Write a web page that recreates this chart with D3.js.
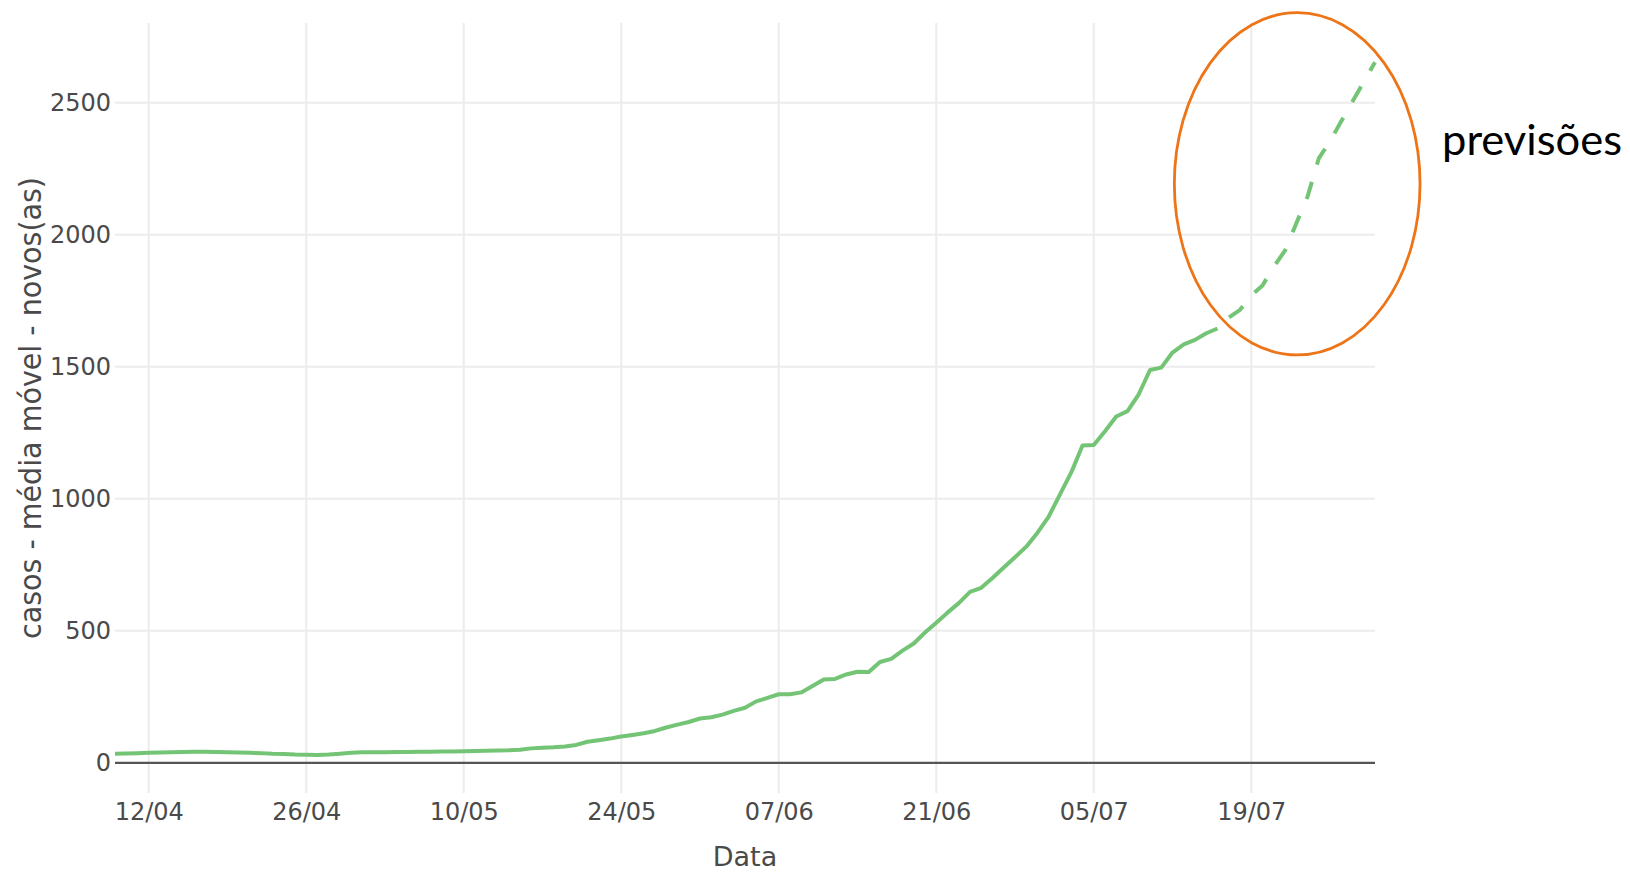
<!DOCTYPE html>
<html>
<head>
<meta charset="utf-8">
<script src="https://cdn.jsdelivr.net/npm/d3@7"></script>
<style>
  html, body { margin: 0; padding: 0; background: #ffffff; }
  svg { display: block; }
</style>
</head>
<body>
<svg id="chart" width="1630" height="874"></svg>
<script>
// ---------------- data ----------------
const observedDates = [
  "2020-04-09","2020-04-10","2020-04-11","2020-04-12","2020-04-13","2020-04-14","2020-04-15","2020-04-16",
  "2020-04-17","2020-04-18","2020-04-19","2020-04-20","2020-04-21","2020-04-22","2020-04-23","2020-04-24",
  "2020-04-25","2020-04-26","2020-04-27","2020-04-28","2020-04-29","2020-04-30",
  "2020-05-01","2020-05-02","2020-05-03","2020-05-04","2020-05-05","2020-05-06","2020-05-07","2020-05-08",
  "2020-05-09","2020-05-10","2020-05-11","2020-05-12","2020-05-13","2020-05-14","2020-05-15","2020-05-16",
  "2020-05-17","2020-05-18","2020-05-19","2020-05-20","2020-05-21","2020-05-22","2020-05-23","2020-05-24",
  "2020-05-25","2020-05-26","2020-05-27","2020-05-28","2020-05-29","2020-05-30","2020-05-31",
  "2020-06-01","2020-06-02","2020-06-03","2020-06-04","2020-06-05","2020-06-06","2020-06-07","2020-06-08",
  "2020-06-09","2020-06-10","2020-06-11","2020-06-12","2020-06-13","2020-06-14","2020-06-15","2020-06-16",
  "2020-06-17","2020-06-18","2020-06-19","2020-06-20","2020-06-21","2020-06-22","2020-06-23","2020-06-24",
  "2020-06-25","2020-06-26","2020-06-27","2020-06-28","2020-06-29","2020-06-30",
  "2020-07-01","2020-07-02","2020-07-03","2020-07-04","2020-07-05","2020-07-06","2020-07-07","2020-07-08",
  "2020-07-09","2020-07-10","2020-07-11","2020-07-12","2020-07-13","2020-07-14","2020-07-15","2020-07-16"
];
const observedValues = [
  35,36,37,38,39,40,41,42,42,41,40,39,38,37,35,34,32,31,30,32,35,38,
  40,40,40,41,41,42,42,43,43,44,45,46,47,48,50,55,57,59,62,68,80,86,92,100,106,112,121,134,145,155,168,
  173,183,197,209,233,246,260,260,267,291,316,318,335,345,344,382,394,425,452,494,531,569,605,648,663,700,740,779,819,872,
  933,1017,1100,1202,1204,1256,1312,1332,1396,1488,1497,1554,1585,1602,1627,1645
];
const forecastDates = [
  "2020-07-16","2020-07-17","2020-07-18","2020-07-19","2020-07-20","2020-07-21","2020-07-22","2020-07-23",
  "2020-07-24","2020-07-25","2020-07-26","2020-07-27","2020-07-28","2020-07-29","2020-07-30"
];
const forecastValues = [1645,1686,1716,1770,1808,1879,1940,2043,2144,2289,2354,2430,2505,2579,2653];

const xTickDates = ["2020-04-12","2020-04-26","2020-05-10","2020-05-24","2020-06-07","2020-06-21","2020-07-05","2020-07-19"];
const xTickLabels = ["12/04","26/04","10/05","24/05","07/06","21/06","05/07","19/07"];
const yTickValues = [0, 500, 1000, 1500, 2000, 2500];
const yTickLabels = ["0","500","1000","1500","2000","2500"];

const xTitle = "Data";
const yTitle = "casos - média móvel - novos(as)";
const annotationText = "previsões";
// annotation ellipse in data terms: centre date/value, half-width in days, half-height in cases
const ellipseCenterDate = "2020-07-23T02:00:00Z";
const ellipseCenterValue = 2193;
const ellipseHalfDays = 10.92;
const ellipseHalfValue = 648;

// ---------------- layout ----------------
const parse = s => new Date(s.length > 10 ? s : s + "T00:00:00Z");
const plot = { left: 115, right: 1375, top: 23, bottom: 793 };

const x = d3.scaleUtc()
  .domain([parse("2020-04-09"), parse("2020-07-30")])
  .range([plot.left, plot.right]);
const y = d3.scaleLinear()
  .domain([-114, 2802])
  .range([plot.bottom, plot.top]);

const svg = d3.select("#chart");
const tickFont = "'DejaVu Sans', Verdana, sans-serif";

// gridlines
const grid = svg.append("g");
grid.selectAll("line.vg").data(xTickDates).join("line")
  .attr("x1", d => x(parse(d))).attr("x2", d => x(parse(d)))
  .attr("y1", plot.top).attr("y2", plot.bottom)
  .attr("stroke", "#ececec").attr("stroke-width", 2);
grid.selectAll("line.hg").data(yTickValues.filter(v => v !== 0)).join("line")
  .attr("x1", plot.left).attr("x2", plot.right)
  .attr("y1", d => y(d)).attr("y2", d => y(d))
  .attr("stroke", "#ececec").attr("stroke-width", 2);

// zero line
svg.append("line")
  .attr("x1", plot.left).attr("x2", plot.right)
  .attr("y1", y(0)).attr("y2", y(0))
  .attr("stroke", "#555").attr("stroke-width", 2.2);

// axes (labels only)
const xAxis = d3.axisBottom(x)
  .tickValues(xTickDates.map(parse))
  .tickFormat((d, i) => xTickLabels[i])
  .tickSize(0).tickPadding(10);
const gx = svg.append("g").attr("transform", `translate(0,${plot.bottom})`).call(xAxis);
gx.select(".domain").remove();
gx.selectAll("text").attr("font-family", tickFont).attr("font-size", 24).attr("fill", "#4a4a4a");

const yAxis = d3.axisLeft(y)
  .tickValues(yTickValues)
  .tickFormat((d, i) => yTickLabels[i])
  .tickSize(0).tickPadding(4);
const gy = svg.append("g").attr("transform", `translate(${plot.left},0)`).call(yAxis);
gy.select(".domain").remove();
gy.selectAll("text").attr("font-family", tickFont).attr("font-size", 24).attr("fill", "#4a4a4a");

// axis titles
svg.append("text")
  .attr("x", (plot.left + plot.right) / 2).attr("y", 866)
  .attr("text-anchor", "middle")
  .attr("font-family", tickFont).attr("font-size", 27).attr("fill", "#4a4a4a")
  .text(xTitle);

svg.append("text")
  .attr("transform", `translate(41,408) rotate(-90)`)
  .attr("text-anchor", "middle")
  .attr("font-family", tickFont).attr("font-size", 30).attr("fill", "#4a4a4a")
  .attr("textLength", 462).attr("lengthAdjust", "spacingAndGlyphs")
  .text(yTitle);

// lines
const lineGen = d3.line().x(d => x(d.date)).y(d => y(d.value));
const observed = observedDates.map((d, i) => ({ date: parse(d), value: observedValues[i] }));
const forecast = forecastDates.map((d, i) => ({ date: parse(d), value: forecastValues[i] }));

svg.append("path").datum(observed)
  .attr("d", lineGen)
  .attr("fill", "none").attr("stroke", "#74c476").attr("stroke-width", 4)
  .attr("stroke-linejoin", "round");

svg.append("path").datum(forecast)
  .attr("d", lineGen)
  .attr("fill", "none").attr("stroke", "#74c476").attr("stroke-width", 4)
  .attr("stroke-dasharray", "18,18").attr("stroke-dashoffset", 20)
  .attr("stroke-linejoin", "round");

// annotation
const cx = x(parse(ellipseCenterDate));
const cy = y(ellipseCenterValue);
const rx = x(new Date(parse(ellipseCenterDate).getTime() + ellipseHalfDays * 86400000)) - cx;
const ry = y(0) - y(ellipseHalfValue);
svg.append("ellipse")
  .attr("cx", cx).attr("cy", cy).attr("rx", rx).attr("ry", ry)
  .attr("fill", "none").attr("stroke", "#ee7418").attr("stroke-width", 2.8);

svg.append("text")
  .attr("x", 1442).attr("y", 155)
  .attr("font-family", "Lato, 'Open Sans', sans-serif").attr("font-size", 43).attr("fill", "#000")
  .attr("textLength", 180).attr("lengthAdjust", "spacingAndGlyphs")
  .text(annotationText);
</script>
</body>
</html>
